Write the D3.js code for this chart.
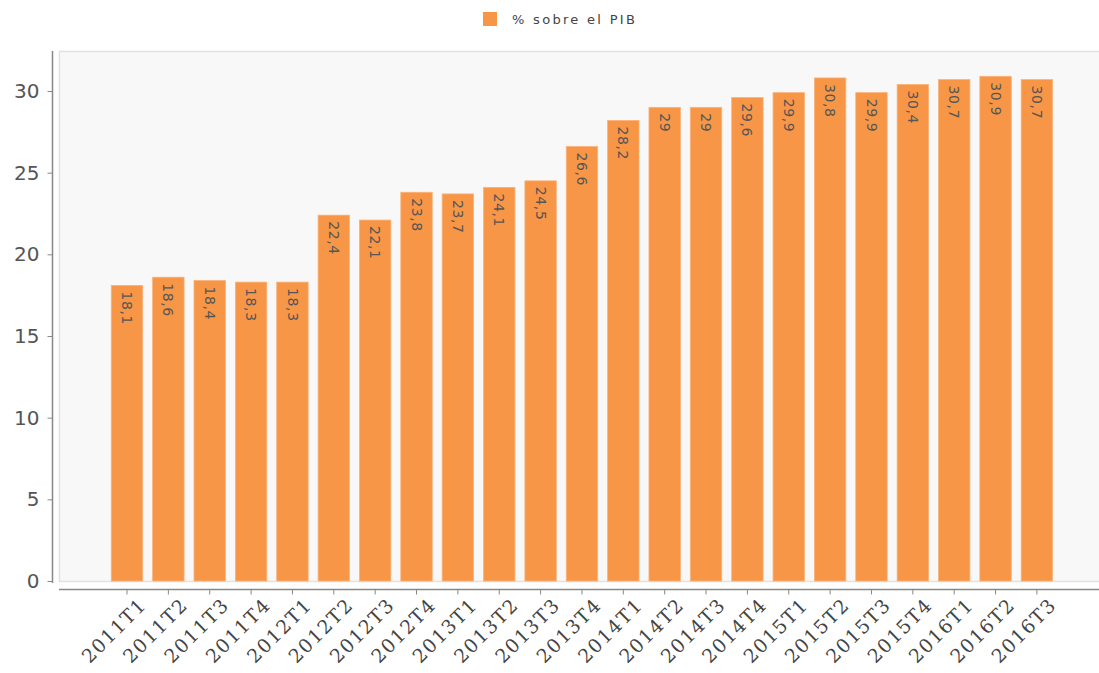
<!DOCTYPE html>
<html><head><meta charset="utf-8">
<script src="https://cdn.jsdelivr.net/npm/d3@7"></script>
<style>body{margin:0;background:#fff;} svg{display:block;}</style>
</head><body>
<svg id="c" width="1099" height="673"></svg>
<script>
const categories = ["2011T1","2011T2","2011T3","2011T4","2012T1","2012T2","2012T3","2012T4","2013T1","2013T2","2013T3","2013T4","2014T1","2014T2","2014T3","2014T4","2015T1","2015T2","2015T3","2015T4","2016T1","2016T2","2016T3"];
const values = [18.1,18.6,18.4,18.3,18.3,22.4,22.1,23.8,23.7,24.1,24.5,26.6,28.2,29,29,29.6,29.9,30.8,29.9,30.4,30.7,30.9,30.7];
const yTicks = [0,5,10,15,20,25,30];
const seriesName = "% sobre el PIB";

const svg = d3.select("#c");
const plotLeft = 59, plotTop = 51, plotBottom = 581, plotRight = 1110;
const y = d3.scaleLinear().domain([0, 32.45]).range([plotBottom, plotTop]);
const step = 41.36;
const x = d3.scaleBand().domain(categories)
  .range([127 - step/2, 127 - step/2 + step*categories.length])
  .paddingInner(0.24).paddingOuter(0.12);

// plot background
svg.append("rect").attr("x", plotLeft + 0.5).attr("y", plotTop + 0.5)
  .attr("width", plotRight - plotLeft).attr("height", plotBottom - plotTop)
  .attr("fill", "#f8f8f8").attr("stroke", "#e2e2e2").attr("stroke-width", 1.5);

// bars
svg.append("g").selectAll("rect").data(values).join("rect")
  .attr("x", (d,i) => x(categories[i]))
  .attr("y", d => y(d))
  .attr("width", x.bandwidth())
  .attr("height", d => plotBottom - y(d))
  .attr("fill", "#f79646")
  .attr("stroke", "#fbb27a").attr("stroke-width", 0.8);

// bar labels
svg.append("g").selectAll("text").data(values).join("text")
  .attr("transform", (d,i) => `translate(${x(categories[i]) + x.bandwidth()/2},${y(d) + 6}) rotate(90)`)
  .attr("dy", "0.35em")
  .attr("text-anchor", "start")
  .attr("font-family", "DejaVu Sans, sans-serif")
  .attr("font-size", 14)
  .attr("letter-spacing", 0.6)
  .attr("fill", "#555")
  .text(d => String(d).replace(".", ","));

// y axis
const yAxis = d3.axisLeft(y).tickValues(yTicks).tickSize(5).tickPadding(8);
const gy = svg.append("g").attr("transform", "translate(52.5,0)").call(yAxis);
gy.select(".domain").attr("d", `M0,${plotTop}V${plotBottom + 2}`).attr("stroke", "#888").attr("stroke-width", 1.5);
gy.selectAll(".tick line").attr("stroke", "#888");
gy.selectAll(".tick text").attr("font-family", "DejaVu Sans, sans-serif").attr("font-size", 20).attr("fill", "#555");

// x axis
const xAxis = d3.axisBottom(x).tickSize(5).tickSizeOuter(0).tickFormat(d => d);
const gx = svg.append("g").attr("transform", "translate(0,589.5)").call(xAxis);
gx.select(".domain").attr("d", `M${plotLeft},0H1099`).attr("stroke", "#888").attr("stroke-width", 1.5);
gx.selectAll(".tick line").attr("stroke", "#888");
gx.selectAll(".tick text")
  .attr("font-family", "DejaVu Serif, serif").attr("font-size", 19).attr("letter-spacing", 1.5).attr("fill", "#444")
  .attr("text-anchor", "end")
  .attr("transform", "translate(16,12) rotate(-45)")
  .attr("x", 0).attr("y", 0).attr("dy", "0.35em");

// legend
const lg = svg.append("g");
lg.append("rect").attr("x", 483).attr("y", 12).attr("width", 14).attr("height", 14).attr("fill", "#f79646");
lg.append("text").attr("x", 512).attr("y", 19.5).attr("dy", "0.35em")
  .attr("font-family", "DejaVu Sans, sans-serif").attr("font-size", 13).attr("letter-spacing", 2.3)
  .attr("fill", "#444").text(seriesName);
</script>
</body></html>
